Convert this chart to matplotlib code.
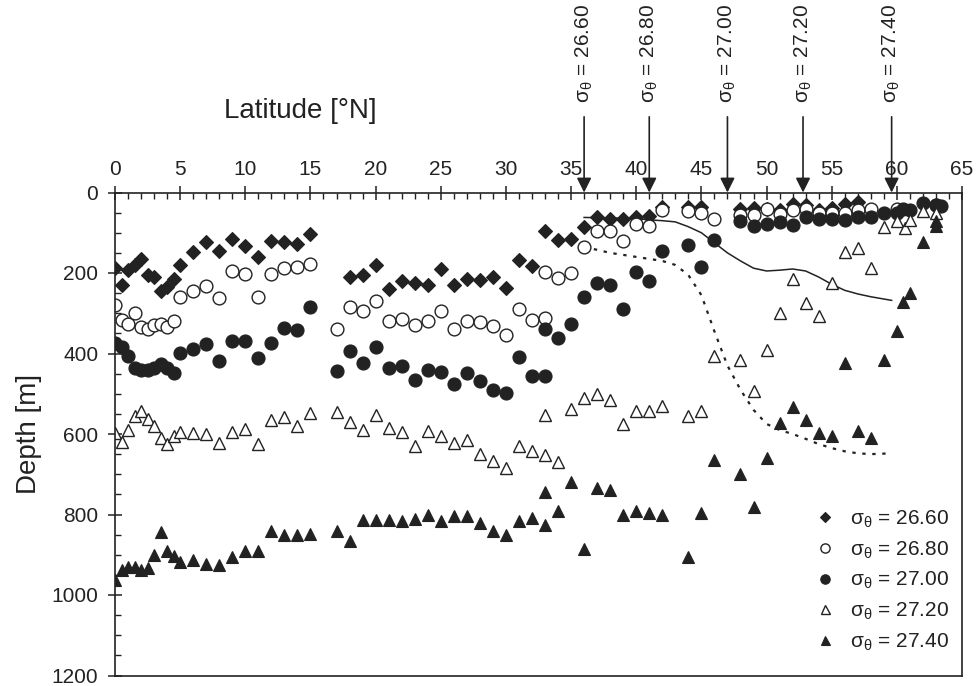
import matplotlib
matplotlib.use("Agg")
import matplotlib.pyplot as plt
from matplotlib.ticker import MultipleLocator

plt.rcParams['font.family'] = ['Liberation Sans', 'DejaVu Sans']
plt.rcParams['mathtext.fontset'] = 'custom'
plt.rcParams['mathtext.rm'] = 'Liberation Sans'
plt.rcParams['mathtext.it'] = 'Liberation Sans'
plt.rcParams['mathtext.default'] = 'regular'

ink = '#222222'

#######################
# données
#######################
# sigma_theta = 26.60 (losanges pleins)
lat_2660 = [0, 0.5, 1, 1.5, 2, 2.5, 3, 3.5, 4, 4.5, 5, 6, 7, 8, 9, 10, 11, 12, 13, 14, 15,
            18, 19, 20, 21, 22, 23, 24, 25, 26, 27, 28, 29, 30, 31, 32, 33, 34, 35,
            36, 37, 38, 39, 40, 41, 42, 44, 45, 48, 49, 50, 51, 52, 53, 54, 55, 56, 57]
dep_2660 = [187, 229, 192, 181, 166, 204, 209, 244, 235, 215, 180, 148, 124, 145, 115, 133, 160, 120, 123, 127, 104,
            210, 205, 181, 240, 221, 225, 230, 190, 229, 215, 217, 210, 238, 167, 183, 96, 119, 116,
            85, 60, 66, 65, 60, 58, 35, 35, 35, 40, 38, 40, 44, 29, 31, 44, 38, 29, 23]

# sigma_theta = 26.80 (cercles vides)
lat_2680 = [0, 0.5, 1, 1.5, 2, 2.5, 3, 3.5, 4, 4.5, 5, 6, 7, 8, 9, 10, 11, 12, 13, 14, 15,
            17, 18, 19, 20, 21, 22, 23, 24, 25, 26, 27, 28, 29, 30, 31, 32, 33, 33, 34, 35,
            36, 37, 38, 39, 40, 41, 42, 44, 45, 46, 48, 49, 50, 51, 52, 53, 54, 55, 56, 57, 58, 60, 63]
dep_2680 = [280, 316, 327, 300, 335, 340, 330, 327, 335, 320, 259, 245, 233, 263, 194, 202, 259, 202, 187, 184, 177,
            340, 284, 294, 269, 320, 315, 330, 319, 294, 340, 320, 322, 331, 354, 290, 317, 313, 198, 212, 200,
            135, 95, 95, 121, 79, 83, 44, 45, 52, 65, 56, 56, 42, 54, 44, 40, 50, 50, 50, 44, 42, 40, 30]

# sigma_theta = 27.00 (cercles pleins)
lat_2700 = [0, 0.5, 1, 1.5, 2, 2.5, 3, 3.5, 4, 4.5, 5, 6, 7, 8, 9, 10, 11, 12, 13, 14, 15,
            17, 18, 19, 20, 21, 22, 23, 24, 25, 26, 27, 28, 29, 30, 31, 32, 33, 33, 34, 35,
            36, 37, 38, 39, 40, 41, 42, 44, 45, 46, 48, 49, 50, 51, 52, 53, 54, 55, 56, 57, 58, 59,
            60, 60.5, 61, 62, 63, 63.4]
dep_2700 = [375, 385, 405, 435, 442, 442, 435, 425, 435, 448, 398, 388, 377, 419, 369, 369, 412, 375, 337, 342, 285,
            444, 395, 423, 384, 437, 430, 466, 442, 445, 475, 448, 469, 491, 498, 409, 456, 456, 340, 362, 327,
            260, 225, 230, 290, 198, 220, 145, 131, 184, 117, 71, 84, 78, 74, 80, 62, 66, 65, 68, 62, 62, 52,
            51, 40, 44, 25, 30, 33]

# sigma_theta = 27.20 (triangles vides)
lat_2720 = [0, 0.5, 1, 1.5, 2, 2.5, 3, 3.5, 4, 4.5, 5, 6, 7, 8, 9, 10, 11, 12, 13, 14, 15,
            17, 18, 19, 20, 21, 22, 23, 24, 25, 26, 27, 28, 29, 30, 31, 32, 33, 34, 33, 35,
            36, 37, 38, 39, 40, 41, 42, 44, 45, 46, 48, 49, 50, 51, 52, 53, 54, 55, 56, 57, 58,
            59, 60, 60.6, 61, 62, 63]
dep_2720 = [598, 620, 590, 556, 544, 562, 579, 609, 625, 606, 594, 598, 600, 623, 594, 587, 625, 565, 559, 579, 548,
            545, 570, 590, 554, 584, 594, 629, 592, 606, 623, 615, 649, 667, 684, 629, 642, 652, 669, 554, 537,
            510, 500, 516, 575, 542, 542, 531, 555, 542, 406, 417, 494, 392, 300, 215, 275, 308, 225, 148, 137, 187,
            85, 70, 87, 68, 45, 50]

# sigma_theta = 27.40 (triangles pleins)
lat_2740 = [0, 0.5, 1, 1.5, 2, 2.5, 3, 3.5, 4, 4.5, 5, 6, 7, 8, 9, 10, 11, 12, 13, 14, 15,
            17, 18, 19, 20, 21, 22, 23, 24, 25, 26, 27, 28, 29, 30, 31, 32, 33, 34, 33, 35,
            36, 37, 38, 39, 40, 41, 42, 44, 45, 46, 48, 49, 50, 51, 52, 53, 54, 55, 56, 57, 58,
            59, 60, 60.5, 61, 62, 63, 63]
dep_2740 = [962, 937, 931, 931, 937, 933, 900, 844, 891, 902, 919, 913, 923, 925, 906, 891, 890, 842, 850, 852, 848,
            840, 865, 813, 813, 813, 817, 810, 802, 817, 804, 804, 820, 840, 852, 815, 809, 826, 792, 744, 720,
            885, 735, 740, 802, 792, 797, 800, 906, 797, 665, 700, 781, 660, 573, 534, 565, 598, 606, 423, 592, 610,
            417, 344, 273, 250, 123, 84, 70]

# courbe continue et courbe pointillée
lat_solid = [36, 38, 40, 41, 42, 43, 44, 45, 46, 47, 48, 49, 50, 51, 52, 53, 54, 55, 56, 57, 58, 59.6]
dep_solid = [62, 63, 65, 68, 70, 73, 85, 100, 125, 150, 170, 188, 195, 193, 190, 195, 210, 228, 243, 252, 259, 268]
lat_dot = [36, 38, 40, 42, 43, 44, 45, 46, 47, 48, 49, 50, 51, 52, 53, 54, 55, 56, 57, 58, 59.6]
dep_dot = [135, 150, 160, 170, 180, 205, 255, 345, 430, 490, 540, 575, 590, 600, 612, 625, 635, 643, 648, 650, 648]

# flèches en haut
lat_arrows = [36.0, 41.0, 47.0, 52.8, 59.6]
arrow_labels = ['26.60', '26.80', '27.00', '27.20', '27.40']

#######################
# figure
#######################
fig = plt.figure(figsize=(9.76, 6.86), dpi=100)
ax = fig.add_axes([115/976, 1 - 675.5/686, (962 - 115)/976, (675.5 - 192.5)/686])

ax.plot(lat_solid, dep_solid, '-', color=ink, lw=1.1, zorder=1)
ax.plot(lat_dot, dep_dot, linestyle=(0, (1.5, 3)), color=ink, lw=1.6, zorder=1)

ax.plot(lat_2660, dep_2660, 'D', ms=6.8, mfc=ink, mec=ink, mew=0.8, ls='none', label=r'$\sigma_\theta$ = 26.60')
ax.plot(lat_2680, dep_2680, 'o', ms=9.2, mfc='white', mec=ink, mew=1.0, ls='none', label=r'$\sigma_\theta$ = 26.80')
ax.plot(lat_2700, dep_2700, 'o', ms=9.4, mfc=ink, mec=ink, mew=0.8, ls='none', label=r'$\sigma_\theta$ = 27.00')
ax.plot(lat_2720, dep_2720, '^', ms=9.0, mfc='white', mec=ink, mew=1.0, ls='none', label=r'$\sigma_\theta$ = 27.20')
ax.plot(lat_2740, dep_2740, '^', ms=9.0, mfc=ink, mec=ink, mew=0.8, ls='none', label=r'$\sigma_\theta$ = 27.40')

ax.set_xlim(0, 65)
ax.set_ylim(1200, 0)

ax.xaxis.tick_top()
ax.xaxis.set_major_locator(MultipleLocator(5))
ax.xaxis.set_minor_locator(MultipleLocator(1))
ax.yaxis.set_major_locator(MultipleLocator(200))
ax.yaxis.set_minor_locator(MultipleLocator(50))
ax.tick_params(axis='x', which='major', direction='inout', length=10, width=1.1, pad=5,
               labelsize=15, colors=ink)
ax.tick_params(axis='x', which='minor', direction='in', length=4, width=1.0, colors=ink)
ax.tick_params(axis='y', which='major', direction='inout', length=10, width=1.1, pad=7,
               labelsize=15, colors=ink)
ax.tick_params(axis='y', which='minor', direction='in', length=4, width=1.0, colors=ink)
for s in ax.spines.values():
    s.set_color(ink)
    s.set_linewidth(1.2)

fig.text(300/976, 1 - 111/686, 'Latitude [°N]', ha='center', va='center', fontsize=20, color=ink)
fig.text(29/976, 1 - 434/686, 'Depth [m]', ha='center', va='center', rotation=90, fontsize=20, color=ink)

# flèches + étiquettes verticales
for x, lab in zip(lat_arrows, arrow_labels):
    ax.annotate('', xy=(x, 0), xytext=(x, -188), xycoords='data', annotation_clip=False,
                arrowprops=dict(arrowstyle='-|>', color=ink, lw=1.2, mutation_scale=22,
                                shrinkA=0, shrinkB=0))
    ax.text(x, -345, r'$\sigma_\theta$ = ' + lab, rotation=90, ha='center', va='center',
            fontsize=15, color=ink, clip_on=False)

leg = ax.legend(loc='lower right', bbox_to_anchor=(0.995, 0.03), frameon=False, fontsize=15,
                markerscale=0.72, handlelength=1.0, handletextpad=0.7, labelspacing=0.45,
                borderaxespad=0)
for t in leg.get_texts():
    t.set_color(ink)

plt.savefig('out.png', dpi=100)
